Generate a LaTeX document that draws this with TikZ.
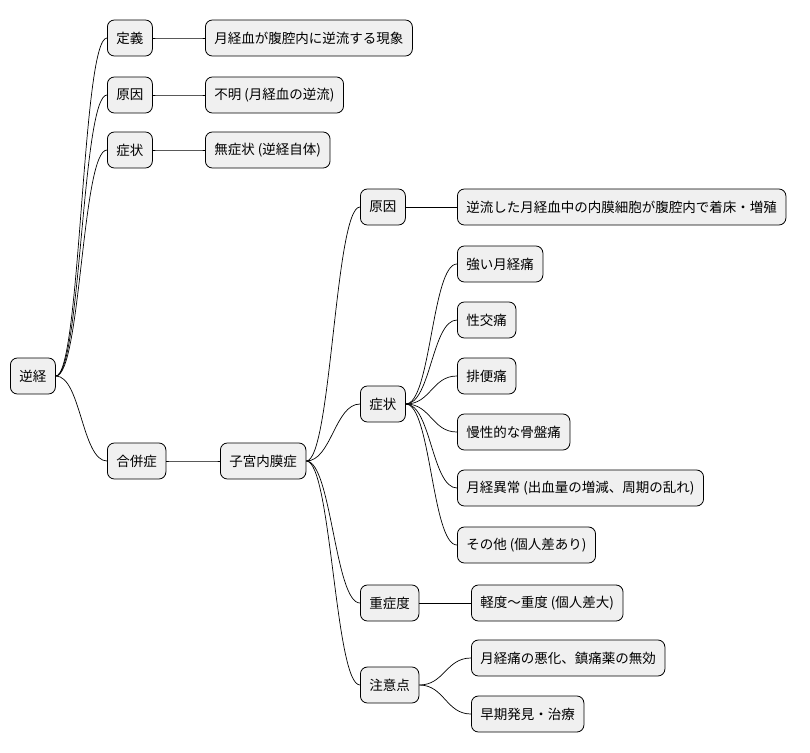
\documentclass[tikz,border=0pt]{standalone}
\usepackage{fontspec}
\setmainfont{Noto Sans CJK JP}
\usetikzlibrary{positioning}

\begin{document}
\begin{tikzpicture}[x=1pt,y=-1pt,
every node/.style={anchor=west},
topic/.style={draw,fill=black!6,rounded corners=7pt,minimum height=36pt,
  inner xsep=9pt,font=\fontsize{13.5}{15}\selectfont,line width=0.8pt},
link/.style={line width=0.7pt}
]
\useasboundingbox (0,0) rectangle (810,752);
% root and first level
\node[topic] (root) at (10,376) {逆経};
\node[topic] (def) at (107,38) {定義};
\node[topic] (cause) at (107,95) {原因};
\node[topic] (symp) at (107,150) {症状};
\node[topic] (comp) at (107,461) {合併症};
\node[topic] (defx) at (205,38) {月経血が腹腔内に逆流する現象};
\node[topic] (causex) at (205,95) {不明 (月経血の逆流)};
\node[topic] (sympx) at (205,150) {無症状 (逆経自体)};
% endometriosis
\node[topic] (endo) at (220,461) {子宮内膜症};
\node[topic] (ecause) at (360,207) {原因};
\node[topic] (esymp) at (360,404) {症状};
\node[topic] (esev) at (360,603) {重症度};
\node[topic] (enote) at (360,685) {注意点};
\node[topic] (ecausex) at (457,207) {逆流した月経血中の内膜細胞が腹腔内で着床・増殖};
\node[topic] (s1) at (457,264) {強い月経痛};
\node[topic] (s2) at (457,320) {性交痛};
\node[topic] (s3) at (457,376) {排便痛};
\node[topic] (s4) at (457,432) {慢性的な骨盤痛};
\node[topic] (s5) at (457,488) {月経異常 (出血量の増減、周期の乱れ)};
\node[topic] (s6) at (457,545) {その他 (個人差あり)};
\node[topic] (sevx) at (471,603) {軽度～重度 (個人差大)};
\node[topic] (n1) at (471,658) {月経痛の悪化、鎮痛薬の無効};
\node[topic] (n2) at (471,714) {早期発見・治療};
% connectors
\foreach \p/\c in {root/def,root/cause,root/symp,root/comp,
  def/defx,cause/causex,symp/sympx,comp/endo,
  endo/ecause,endo/esymp,endo/esev,endo/enote,ecause/ecausex,
  esymp/s1,esymp/s2,esymp/s3,esymp/s4,esymp/s5,esymp/s6,
  esev/sevx,enote/n1,enote/n2}
  \draw[link] (\p.east) .. controls ++(25,0) and ++(-25,0) .. (\c.west);
\end{tikzpicture}
\end{document}
